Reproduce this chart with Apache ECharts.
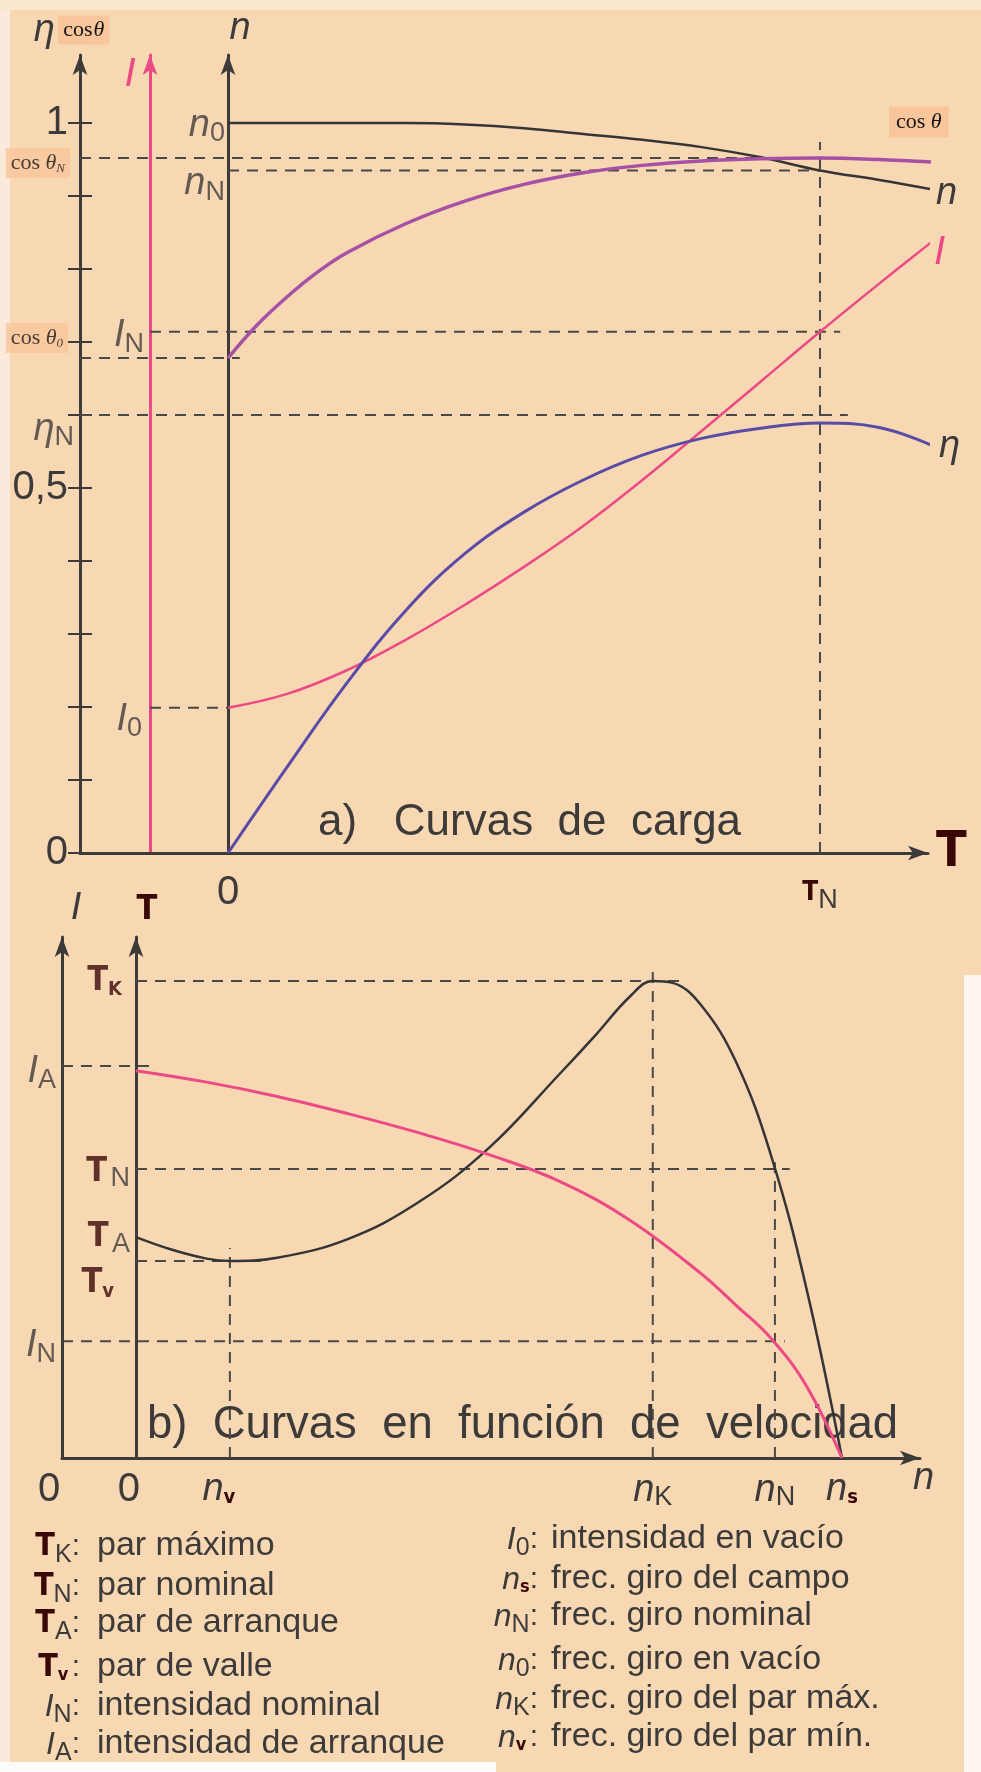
<!DOCTYPE html>
<html>
<head>
<meta charset="utf-8">
<script src="https://cdn.jsdelivr.net/npm/echarts@6/dist/echarts.min.js"></script>
<style>
  html, body { margin: 0; padding: 0; background: #f7d8b2; }
  #chart { width: 981px; height: 1772px; }
</style>
</head>
<body>
<div id="chart"></div>
<script>
// ---------- a) Curvas de carga: quantities against load torque T (T_N = 1) ----------
const loadT      = [0, 0.1, 0.2, 0.3, 0.4, 0.5, 0.6, 0.7, 0.8, 0.9, 1.0, 1.1, 1.19];
const speedN     = [1.0, 1.0, 1.0, 1.0, 0.998, 0.993, 0.985, 0.977, 0.967, 0.953, 0.935, 0.922, 0.909];
const currentI   = [0.199, 0.218, 0.250, 0.292, 0.340, 0.392, 0.448, 0.511, 0.578, 0.646, 0.714, 0.780, 0.838];
const efficiency = [0, 0.118, 0.232, 0.332, 0.410, 0.467, 0.511, 0.545, 0.568, 0.582, 0.589, 0.583, 0.558];
const cosT       = [0, 0.05, 0.1, 0.15, 0.2, 0.3, 0.4, 0.5, 0.6, 0.7, 0.8, 0.9, 1.0, 1.1, 1.2];
const cosPhi     = [0.678, 0.724, 0.762, 0.795, 0.822, 0.862, 0.893, 0.916, 0.932, 0.942, 0.948, 0.951, 0.952, 0.950, 0.946];

// nominal / no-load reference levels of the load curves
const TN = 1.0, n0 = 1.0, nN = 0.935, cosThN = 0.952, cosTh0 = 0.678, IN = 0.714, I0 = 0.199, etaN = 0.600;
const etaTicks  = [0, 0.1, 0.2, 0.3, 0.4, 0.5, 0.6, 0.7, 0.8, 0.9, 1.0];
const etaLabels = [0, 0.5, 1.0];

// ---------- b) Curvas en función de velocidad: against speed n (n_s = 1) ----------
const speedT   = [0, 0.05, 0.1, 0.133, 0.2, 0.3, 0.4, 0.5, 0.6, 0.65, 0.7, 0.732, 0.76, 0.8, 0.85, 0.9, 0.95, 1.0];
const torqueT  = [0.463, 0.437, 0.418, 0.413, 0.420, 0.459, 0.536, 0.650, 0.805, 0.885, 0.968, 1.0, 0.996, 0.950, 0.830, 0.632, 0.353, 0];
const speedI   = [0, 0.1, 0.2, 0.3, 0.4, 0.5, 0.6, 0.7, 0.8, 0.85, 0.9, 0.95, 1.0];
const currentB = [0.812, 0.788, 0.758, 0.722, 0.682, 0.636, 0.580, 0.498, 0.387, 0.320, 0.250, 0.150, 0];

const TK = 1.0, TNb = 0.606, TA = 0.463, Tv = 0.413, IA = 0.822, INb = 0.245;
const nv = 0.133, nK = 0.732, nNb = 0.905, ns = 1.0;

// ---------- axis geometry (in data units) ----------
const A_X_MIN = -0.25, A_X_MAX = 1.1824, A_Y_MAX = 1.0932;   // grid a
const A_I_AXIS = -0.1318;                                    // current axis of grid a
const B_X_MIN = -0.1048, B_X_MAX = 1.1105, B_Y_MAX = 1.0922; // grid b

// ---------- styles ----------
const INK = '#3d3b39', PINK = '#ec4a84', BLUE = '#5a4ca6', PURPLE = '#a650a6', MAROON = '#3a0707';
const SANS = '"Liberation Sans", Arial, sans-serif';
const NARROW = '"Liberation Sans Narrow", "DejaVu Sans Condensed", sans-serif';
const SERIF = '"Liberation Serif", "Times New Roman", serif';
const BOX = '#f9c59b';

const RICH = {
  it:  { fontFamily: SANS, fontStyle: 'italic', fontSize: 38, color: INK },
  itP: { fontFamily: SANS, fontStyle: 'italic', fontSize: 40, color: PINK },
  eta: { fontFamily: SANS, fontStyle: 'italic', fontSize: 38, color: INK },
  sb:  { fontFamily: SANS, fontSize: 27, color: INK, padding: [18, 0, 0, 0] },
  num: { fontFamily: SANS, fontSize: 40, color: INK },
  numL: { fontFamily: SANS, fontSize: 40, color: INK, padding: [0, 26, 0, 0] },
  numM: { fontFamily: SANS, fontSize: 40, color: INK, padding: [0, 14, 0, 0] },
  T:   { fontFamily: NARROW, fontWeight: 'bold', fontSize: 34, color: MAROON },
  Tb:  { fontFamily: NARROW, fontWeight: 'bold', fontSize: 50, color: MAROON },
  Ts:  { fontFamily: NARROW, fontWeight: 'bold', fontSize: 26, color: MAROON },
  sT:  { fontFamily: NARROW, fontWeight: 'bold', fontSize: 20, color: MAROON, padding: [18, 0, 0, 0] },
  sTL: { fontFamily: NARROW, fontWeight: 'bold', fontSize: 20, color: MAROON, padding: [18, 22, 0, 0] },
  sN:  { fontFamily: SANS, fontSize: 27, color: INK, padding: [14, 0, 0, 0] },
  cos: { fontFamily: SERIF, fontSize: 22, color: '#151515' },
  th:  { fontFamily: SERIF, fontStyle: 'italic', fontSize: 22, color: '#151515' },
  cs:  { fontFamily: SERIF, fontStyle: 'italic', fontSize: 13, color: '#151515', padding: [10, 0, 0, 0] },
  cosB: { fontFamily: SERIF, fontSize: 22, color: '#151515', backgroundColor: BOX, padding: [4, 0, 3, 5] },
  thB:  { fontFamily: SERIF, fontStyle: 'italic', fontSize: 22, color: '#151515', backgroundColor: BOX, padding: [4, 5, 3, 1] }
};

const pair = (xs, ys) => xs.map((x, i) => [x, ys[i]]);
const DASH = { color: '#4a4846', width: 2, type: [11, 8] };

function refLine(xi, yi, pts) {
  return { type: 'line', xAxisIndex: xi, yAxisIndex: yi, data: pts, symbol: 'none', silent: true,
           lineStyle: DASH, z: 1, clip: false };
}
function note(x, y, text, opt) {
  return { value: [x, y], label: Object.assign({ show: true, formatter: text, position: 'left', distance: 6 }, opt || {}) };
}
function curve(name, xi, yi, data, color, width, extra) {
  return Object.assign({ type: 'line', name: name, xAxisIndex: xi, yAxisIndex: yi, data: data,
                         smooth: 0.4, symbol: 'none',
                         lineStyle: { color: color, width: width }, z: 3 }, extra || {});
}

// reference dashed lines
const dashA = [
  [[A_X_MIN, cosThN], [1.034, cosThN]],
  [[0, nN], [1.0, nN]],
  [[A_I_AXIS, IN], [1.034, IN]],
  [[A_X_MIN, cosTh0], [0.02, cosTh0]],
  [[A_X_MIN, etaN], [1.047, etaN]],
  [[A_I_AXIS, I0], [0, I0]],
  [[TN, 0], [TN, 0.974]]
];
const dashB = [
  [[0, TK], [0.775, TK]],
  [[B_X_MIN, IA], [0.027, IA]],
  [[0, TNb], [0.926, TNb]],
  [[0, Tv], [0.186, Tv]],
  [[B_X_MIN, INb], [0.919, INb]],
  [[nv, 0], [nv, 0.44]],
  [[nK, 0], [nK, 1.027]],
  [[nNb, 0], [nNb, 0.62]]
];

const axisLineStyle = (c) => ({ show: true, onZero: false, symbol: ['none', 'arrow'], symbolSize: [11, 20],
                                 lineStyle: { color: c, width: 3 } });
const baseY = (grid, max) => ({ type: 'value', gridIndex: grid, min: 0, max: max, position: 'left',
                                splitLine: { show: false }, axisTick: { show: false }, axisLabel: { show: false } });

const xLabelsB = new Map([[B_X_MIN, '{numL|0}'], [0, '{numM|0}'], [nv, '{it|n}{sTL|v}'], [nK, '{it|n}{sN|K}'], [nNb, '{it|n}{sN|N}'], [ns, '{it|n}{sT|s}']]);

const option = {
  animation: false,
  backgroundColor: '#f7d8b2',
  grid: [
    { left: 80, top: 55, width: 848, height: 798 },
    { left: 62, top: 937, width: 858, height: 521 }
  ],
  xAxis: [
    { type: 'value', gridIndex: 0, min: A_X_MIN, max: A_X_MAX, splitLine: { show: false },
      axisLine: axisLineStyle(INK), axisTick: { show: false },
      axisLabel: { customValues: [0, TN], margin: 20, rich: RICH,
                   formatter: v => v === 0 ? '{num|0}' : '{Ts|T}{sN|N}' },
      name: '{Tb|T}', nameLocation: 'end', nameGap: 8, nameTextStyle: { rich: RICH } },
    { type: 'value', gridIndex: 1, min: B_X_MIN, max: B_X_MAX, splitLine: { show: false },
      axisLine: axisLineStyle(INK), axisTick: { show: false },
      axisLabel: { customValues: [B_X_MIN, 0, nv, nK, nNb, ns], margin: 12, rich: RICH,
                   formatter: v => xLabelsB.get(v) || '' },
      name: '{it|n}', nameLocation: 'end', nameGap: -7, nameTextStyle: { rich: RICH, padding: [40, 0, 0, 0] } }
  ],
  yAxis: [
    // 0: efficiency / power factor scale
    Object.assign(baseY(0, A_Y_MAX), {
      axisLine: axisLineStyle(INK),
      axisTick: { show: true, customValues: etaTicks, length: 12, lineStyle: { color: INK, width: 2 } },
      axisLabel: { show: true, customValues: etaLabels, margin: 12, rich: RICH,
                   formatter: v => '{num|' + (v === 0.5 ? '0,5' : String(v)) + '}' },
      name: '{eta|η} {cosB|cos}{thB|θ}', nameLocation: 'end', nameGap: 6,
      nameTextStyle: { rich: RICH, padding: [0, 17, 0, 0] } }),
    // 1: inner half of the crossing ticks
    Object.assign(baseY(0, A_Y_MAX), {
      axisLine: { show: false, onZero: false },
      axisTick: { show: true, inside: true, customValues: etaTicks, length: 12, lineStyle: { color: INK, width: 2 } } }),
    // 2: current axis
    Object.assign(baseY(0, A_Y_MAX), {
      offset: -70, axisLine: axisLineStyle(PINK),
      name: '{itP|I}', nameLocation: 'end', nameGap: -40, nameTextStyle: { rich: RICH, padding: [0, 40, 0, 0] } }),
    // 3: speed axis
    Object.assign(baseY(0, A_Y_MAX), {
      offset: -148, axisLine: axisLineStyle(INK),
      name: '{it|n}', nameLocation: 'end', nameGap: 8, nameTextStyle: { rich: RICH, padding: [0, 0, 0, 24] } }),
    // 4: current axis of grid b
    Object.assign(baseY(1, B_Y_MAX), {
      axisLine: axisLineStyle(INK),
      name: '{it|I}', nameLocation: 'end', nameGap: 10, nameTextStyle: { rich: RICH, padding: [0, 0, 0, 28] } }),
    // 5: torque axis of grid b
    Object.assign(baseY(1, B_Y_MAX), {
      offset: -74, axisLine: axisLineStyle(INK),
      name: '{T|T}', nameLocation: 'end', nameGap: 10, nameTextStyle: { rich: RICH, padding: [0, 0, 0, 22] } })
  ],
  graphic: [
    { type: 'rect', shape: { x: 0, y: 0, width: 10, height: 1772 }, style: { fill: '#fbeadb' }, z: -1 },
    { type: 'rect', shape: { x: 0, y: 0, width: 981, height: 10 }, style: { fill: '#fbe6cf' }, z: -1 },
    { type: 'rect', shape: { x: 964, y: 975, width: 17, height: 797 }, style: { fill: '#fdf6ee' }, z: -1 },
    { type: 'rect', shape: { x: 0, y: 1762, width: 496, height: 10 }, style: { fill: '#fefcfa' }, z: -1 },
    { type: 'text', x: 318, y: 823, style: { text: 'a)   Curvas  de  carga', font: '44px ' + SANS, fill: INK, verticalAlign: 'middle' } },
    { type: 'text', x: 147, y: 1425, style: { text: 'b)  Curvas  en  función  de  velocidad', font: '45.5px ' + SANS, fill: INK, verticalAlign: 'middle' } }
  ],
  series: [
    ...dashA.map(p => refLine(0, 0, p)),
    ...dashB.map(p => refLine(1, 4, p)),
    curve('n', 0, 3, pair(loadT, speedN), '#353535', 2.5,
          { endLabel: { show: true, formatter: '{it|n}', rich: RICH, distance: 6, offset: [0, 4] } }),
    curve('cos θ', 0, 0, pair(cosT, cosPhi), PURPLE, 3.5,
          { endLabel: { show: true, formatter: '{cos|cos }{th|θ}', rich: RICH, backgroundColor: BOX, padding: [5, 7, 4, 7],
                        distance: 0, offset: [-42, -40] } }),
    curve('I', 0, 2, pair(loadT, currentI), PINK, 2.5,
          { endLabel: { show: true, formatter: '{itP|I}', rich: RICH, distance: 4, offset: [0, 10] } }),
    curve('η', 0, 0, pair(loadT, efficiency), BLUE, 3,
          { endLabel: { show: true, formatter: '{eta|η}', rich: RICH, distance: 9, offset: [0, 2] } }),
    curve('T(n)', 1, 5, pair(speedT, torqueT), '#353535', 2.5),
    curve('I(n)', 1, 4, pair(speedI, currentB), PINK, 3),
    // value labels of the reference levels, grid a
    { type: 'scatter', xAxisIndex: 0, yAxisIndex: 0, symbolSize: 0, silent: true, z: 4, clip: false,
      label: { rich: RICH },
      data: [
        note(0, n0, '{it|n}{sb|0}', { distance: 3, offset: [0, 2] }),
        note(0, nN, '{it|n}{sb|N}', { distance: 3, offset: [0, 13] }),
        note(A_I_AXIS, IN, '{it|I}{sb|N}', { distance: 6, offset: [0, 4] }),
        note(A_I_AXIS, I0, '{it|I}{sb|0}', { distance: 8, offset: [0, 12] }),
        note(A_X_MIN, etaN, '{eta|η}{sb|N}', { distance: 6, offset: [0, 14] }),
        note(A_X_MIN, cosThN, '{cos|cos }{th|θ}{cs|N}', { distance: 10, offset: [0, 5], backgroundColor: BOX, padding: [4, 5, 3, 5] }),
        note(A_X_MIN, cosTh0, '{cos|cos }{th|θ}{cs|0}', { distance: 12, offset: [0, -20], backgroundColor: BOX, padding: [4, 5, 3, 5] })
      ] },
    // value labels of the reference levels, grid b
    { type: 'scatter', xAxisIndex: 1, yAxisIndex: 4, symbolSize: 0, silent: true, z: 4, clip: false,
      label: { rich: RICH },
      data: [
        note(B_X_MIN, IA, '{it|I}{sb|A}', { distance: 6, offset: [0, 6] }),
        note(B_X_MIN, INb, '{it|I}{sb|N}', { distance: 6, offset: [0, 4] }),
        note(0, TK, '{T|T}{sT|K}', { distance: 14, offset: [0, 0] }),
        note(0, TNb, '{T|T} {sN|N}', { distance: 6, offset: [0, 3] }),
        note(0, TA, '{T|T} {sN|A}', { distance: 6, offset: [0, 0] }),
        note(0, Tv, '{T|T}{sT|v}', { distance: 22, offset: [0, 22] })
      ] }
  ]
};

// symbol legend below the charts
const legendLeft = [
  ['{T|T}{s|K}', 'par máximo'], ['{T|T}{s|N}', 'par nominal'], ['{T|T}{s|A}', 'par de arranque'],
  ['{T|T}{v|v} ', 'par de valle'], ['{i|I}{s|N}', 'intensidad nominal'], ['{i|I}{s|A}', 'intensidad de arranque']
];
const legendRight = [
  ['{i|I}{s|0}', 'intensidad en vacío'], ['{i|n}{v|s}', 'frec. giro del campo'], ['{i|n}{s|N}', 'frec. giro nominal'],
  ['{i|n}{s|0}', 'frec. giro en vacío'], ['{i|n}{s|K}', 'frec. giro del par máx.'], ['{i|n}{v|v} ', 'frec. giro del par mín.']
];
const legendRows = [1557, 1597, 1634, 1678, 1717, 1755];
const LEG_RICH = {
  T: { fontFamily: NARROW, fontWeight: 'bold', fontSize: 32, fill: MAROON },
  v: { fontFamily: NARROW, fontWeight: 'bold', fontSize: 18, fill: MAROON, padding: [14, 0, 0, 0] },
  i: { fontFamily: SANS, fontStyle: 'italic', fontSize: 32, fill: INK },
  s: { fontFamily: SANS, fontSize: 25, fill: INK, padding: [16, 0, 0, 0] },
  c: { fontFamily: SANS, fontSize: 30, fill: INK }
};
function legendItem(sym, text, xSym, xText, base) {
  return [
    { type: 'text', x: xSym, y: base - 10, style: { text: sym + '{c|:}', rich: LEG_RICH, align: 'right', verticalAlign: 'middle' } },
    { type: 'text', x: xText, y: base - 11, style: { text: text, font: '34px ' + SANS, fill: INK, verticalAlign: 'middle' } }
  ];
}
legendLeft.forEach((r, i) => option.graphic.push(...legendItem(r[0], r[1], 80, 97, legendRows[i])));
legendRight.forEach((r, i) => option.graphic.push(...legendItem(r[0], r[1], 538, 551, legendRows[i] - 7)));

const chart = echarts.init(document.getElementById('chart'), null, { renderer: 'canvas' });
chart.setOption(option);
</script>
</body>
</html>
